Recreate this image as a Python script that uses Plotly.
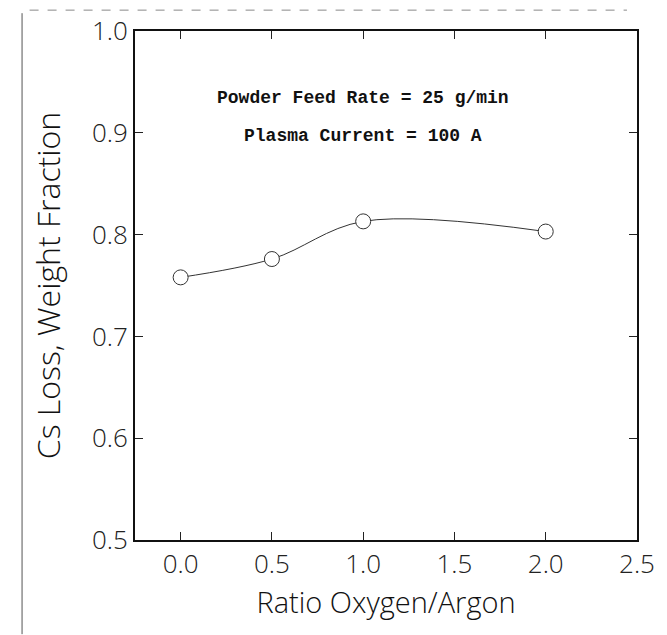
import plotly.graph_objects as go

# Cs loss versus oxygen/argon ratio
ratio = [0.0, 0.5, 1.0, 2.0]
cs_loss = [0.758, 0.776, 0.813, 0.803]

x_ticks = [0.0, 0.5, 1.0, 1.5, 2.0, 2.5]
y_ticks = [0.5, 0.6, 0.7, 0.8, 0.9, 1.0]

notes = ["Powder Feed Rate = 25 g/min", "Plasma Current = 100 A"]
note_y = [0.934, 0.897]

fig = go.Figure()

fig.add_trace(go.Scatter(
    x=ratio, y=cs_loss,
    mode="lines",
    line=dict(color="#333333", width=1, shape="spline", smoothing=1.0),
    hoverinfo="skip", showlegend=False,
))
fig.add_trace(go.Scatter(
    x=ratio, y=cs_loss,
    mode="markers",
    marker=dict(symbol="circle", size=15, color="white",
                line=dict(color="#333333", width=1)),
    showlegend=False,
))

for txt, yy in zip(notes, note_y):
    fig.add_annotation(
        x=1.0, y=yy, xref="x", yref="y", text="<b>" + txt + "</b>",
        showarrow=False,
        font=dict(family="Liberation Mono, Courier New, monospace", size=18, color="#111111"),
    )

axis_font = dict(family="Open Sans", size=26, color="#222222", weight=300)
title_font = dict(family="Open Sans", size=29, color="#111111", weight=300)

fig.update_xaxes(
    range=[-0.25, 2.5], tickvals=x_ticks, ticktext=[f"{v:.1f}" for v in x_ticks],
    ticks="inside", ticklen=8, tickwidth=1, tickcolor="#222222",
    showline=True, linecolor="#111111", linewidth=2, mirror="ticks",
    showgrid=False, zeroline=False, tickfont=axis_font,
    title=dict(text="Ratio Oxygen/Argon", font=title_font, standoff=12),
)
fig.update_yaxes(
    range=[0.5, 1.0], tickvals=y_ticks, ticktext=[f"{v:.1f}" for v in y_ticks],
    ticks="inside", ticklen=8, tickwidth=1, tickcolor="#222222",
    showline=True, linecolor="#111111", linewidth=2, mirror="ticks",
    showgrid=False, zeroline=False, tickfont=axis_font,
    title=dict(text="Cs Loss, Weight Fraction", font=dict(family="Open Sans", size=32, color="#111111", weight=300), standoff=22),
)

# faint page border along the top and left edge
fig.add_shape(type="line", xref="paper", yref="paper", x0=-0.225, x1=-0.225, y0=-0.185, y1=1.035,
              line=dict(color="#555555", width=1))
fig.add_shape(type="line", xref="paper", yref="paper", x0=-0.21, x1=0.98, y0=1.041, y1=1.041,
              line=dict(color="#888888", width=1, dash="dash"))

fig.update_layout(
    width=667, height=635,
    margin=dict(l=135, r=29, t=26, b=95),
    paper_bgcolor="white", plot_bgcolor="white",
)

fig.write_html("out.html")
